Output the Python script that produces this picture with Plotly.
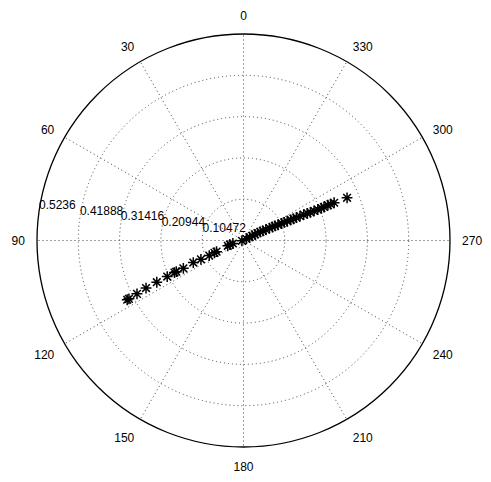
import plotly.graph_objects as go

# radial tick values (pi/30 steps) and angular labels
r_ticks = [0.10472, 0.20944, 0.31416, 0.41888, 0.5236]
r_tick_text = ['0.10472', '0.20944', '0.31416', '0.41888', '0.5236']
theta_ticks = [0, 30, 60, 90, 120, 150, 180, 210, 240, 270, 300, 330]

# upper-right branch
r_upper = [0.008, 0.018, 0.025, 0.033, 0.040, 0.048, 0.055, 0.063, 0.073, 0.081,
           0.088, 0.096, 0.106, 0.113, 0.121, 0.131, 0.138, 0.146, 0.156, 0.166,
           0.176, 0.184, 0.194, 0.204, 0.214, 0.221, 0.232, 0.239, 0.249, 0.284]
theta_upper = [300, 299, 298.5, 298, 298, 297, 296.5, 296, 295.5, 295,
               294.8, 294.5, 294.2, 294, 293.8, 293.6, 293.5, 293.4, 293.3, 293.2,
               293, 292.8, 292.7, 292.6, 292.6, 292.6, 292.7, 292.7, 292.6, 292.4]

# lower-left branch
r_lower = [0.004, 0.028, 0.036, 0.042, 0.074, 0.080, 0.095, 0.118, 0.139, 0.168,
           0.188, 0.193, 0.214, 0.244, 0.275, 0.302, 0.326, 0.331]
theta_lower = [100, 105.7, 107, 108.6, 112.5, 113, 113.8, 113.8, 113.7, 114.8,
               114.9, 114.9, 115.3, 115.7, 116.0, 116.6, 117, 117]

fig = go.Figure()
fig.add_trace(go.Scatterpolar(
    r=r_upper + r_lower, theta=theta_upper + theta_lower, mode='markers',
    marker=dict(symbol='asterisk-open', size=9, color='black',
                line=dict(color='black', width=1.5)),
    showlegend=False, hoverinfo='skip'))

# radial labels placed near the 90 spoke like the original
fig.add_trace(go.Scatterpolar(
    r=r_ticks, theta=[82] * len(r_ticks), mode='text', text=r_tick_text,
    textposition='top right', textfont=dict(size=12, color='black'),
    showlegend=False, hoverinfo='skip'))

# keep the whole svg inside the window (page body has an 8px margin)
fig.update_layout(
    width=475, height=466,
    margin=dict(l=29, r=33, t=26, b=27),
    paper_bgcolor='white',
    font=dict(family='Liberation Sans, Arial, sans-serif', size=12, color='black'),
    polar=dict(
        bgcolor='white',
        radialaxis=dict(range=[0, 0.5236], tickvals=r_ticks, showticklabels=False,
                        ticks='', showline=False, gridcolor='#444444',
                        griddash='1px,3px', gridwidth=1),
        angularaxis=dict(rotation=90, direction='counterclockwise',
                         tickvals=theta_ticks, ticktext=[str(t) for t in theta_ticks],
                         showline=True, linecolor='black', linewidth=1.3,
                         ticks='outside', ticklen=9, tickcolor='rgba(0,0,0,0)',
                         gridcolor='#444444', griddash='1px,3px', gridwidth=1),
    ),
)

fig.write_html("out.html")
